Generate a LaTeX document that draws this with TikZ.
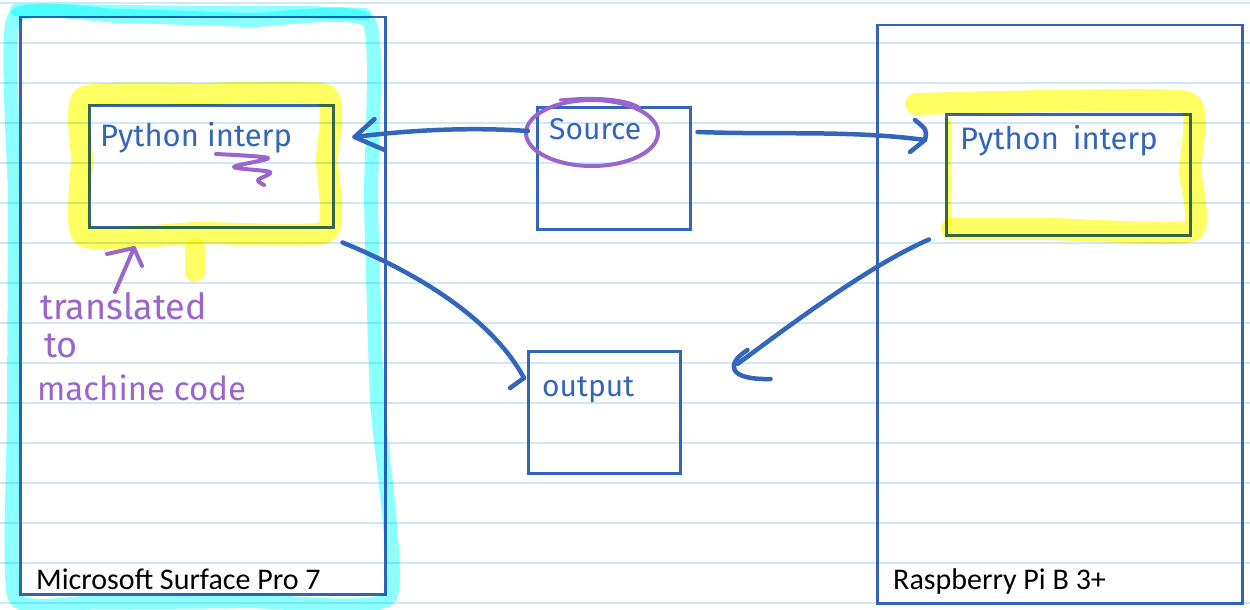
\documentclass[tikz,border=0pt]{standalone}
\usepackage{fontspec}
\setmainfont{Carlito}
\newfontfamily\hand{Fira Sans}
\usetikzlibrary{arrows.meta}
\definecolor{ink}{RGB}{51,102,187}
\definecolor{rulec}{RGB}{51,99,185}
\definecolor{purp}{RGB}{153,102,204}
\definecolor{paperline}{RGB}{204,232,250}
\definecolor{hlcyan}{RGB}{0,255,255}
\definecolor{hlyellow}{RGB}{255,255,0}
\tikzset{
  devbox/.style={draw=rulec, line width=2.5pt, inner sep=0pt, anchor=north west},
  inbox/.style={draw=ink, line width=2.5pt, inner sep=0pt, anchor=north west},
  handtxt/.style={text=ink, font=\hand\fontsize{31}{31}\selectfont, anchor=base west, inner sep=0pt},
  notetxt/.style={text=purp, font=\hand\fontsize{33}{33}\selectfont, anchor=base west, inner sep=0pt},
  devlabel/.style={text=black, font=\fontsize{30}{30}\selectfont, anchor=base west, inner sep=0pt},
  conn/.style={draw=ink, line width=4.5pt, line cap=round, line join=round},
  pstroke/.style={draw=purp, line width=4pt, line cap=round, line join=round},
  hlC/.style={draw=hlcyan, draw opacity=0.45, line width=14pt, line cap=round, line join=round, blend mode=multiply},
  hlY/.style={draw=hlyellow, draw opacity=0.62, line width=22pt, line cap=round, line join=round, blend mode=multiply},
  ruling/.style={draw=paperline, line width=1.5pt},
}
\begin{document}
\begin{tikzpicture}[x=1pt,y=-1pt]
\useasboundingbox (0,0) rectangle (1250,610);
\fill[white] (0,0) rectangle (1250,610);
\foreach \yy in {3,43,...,603} \draw[ruling] (0,\yy) -- (1250,\yy);

% device frames
\node[devbox, minimum width=365pt, minimum height=577pt] (devL) at (19,16) {};
\node[devbox, minimum width=365pt, minimum height=578pt] (devR) at (876,24) {};
\node[devlabel] (labL) at (36,589) {Microsoft Surface Pro 7};
\node[devlabel] (labR) at (893,589) {Raspberry Pi B 3+};

% inner boxes
\node[inbox, minimum width=244pt, minimum height=122pt] (pyL) at (88,104) {};
\node[inbox, minimum width=244pt, minimum height=121pt] (pyR) at (945,113) {};
\node[inbox, minimum width=153pt, minimum height=122pt] (sbox) at (536,106) {};
\node[inbox, minimum width=152pt, minimum height=122pt] (obox) at (527,350) {};

% handwritten texts
\node[handtxt] (pyLt) at (100,146) {Python interp};
\node[handtxt] (pyRt) at (960,149) {Python\hspace{14pt}interp};
\node[handtxt, font=\hand\fontsize{30}{30}\selectfont] (st) at (549,139) {Source};
\node[handtxt, font=\hand\fontsize{30}{30}\selectfont] (ot) at (542,396) {output};
\node[notetxt, font=\hand\fontsize{36}{36}\selectfont] (n1) at (40,319) {translated};
\node[notetxt, font=\hand\fontsize{36}{36}\selectfont] (n2) at (44,357) {to};
\node[notetxt] (n3) at (37,400) {machine code};

% highlights
\draw[hlC] plot[smooth cycle, tension=0.3] coordinates {(15,598) (14,420) (15,200) (14,18) (120,16) (250,20) (369,22) (371,200) (377,400) (390,597) (250,601) (100,602)};
\draw[hlC, line width=12pt] plot[smooth, tension=0.4] coordinates {(16,10) (60,10) (200,12) (300,12) (365,14)};
\draw[hlY] plot[smooth cycle, tension=0.3] coordinates {(84,97) (200,94) (326,95) (327,160) (326,232) (200,233) (84,236) (82,160)};
\draw[hlY, line width=20pt] (195,272) -- (195,248);
\draw[hlY] plot[smooth, tension=0.3] coordinates {(916,104) (1050,101) (1189,103) (1190,170) (1191,231) (1050,229) (952,229)};
\draw[hlY, line width=6pt] (948,120) -- (948,225);

% purple annotations
\draw[purp, line width=4pt] (592,133) ellipse[x radius=66, y radius=33];
\draw[pstroke, line width=3pt] (560,100) .. controls (600,96) and (630,100) .. (640,108);
\draw[pstroke] plot[smooth, tension=0.5] coordinates {(216,154) (268,158) (234,167) (270,172) (258,180) (264,185)};
\coordinate (tA) at (134,248);
\draw[pstroke] (115,292) -- (tA);
\draw[pstroke] (107,254) -- (tA) -- (142,266);

% connectors
\coordinate (a1s) at ([shift={(-8,25)}]sbox.north west);
\coordinate (a1e) at ([shift={(20,33)}]pyL.north east);
\draw[conn] (a1s) .. controls (470,127) and (410,130) .. (a1e);
\draw[conn] ([shift={(20,-18)}]a1e) -- (a1e) -- ([shift={(30,13)}]a1e);

\coordinate (a2s) at ([shift={(6,26)}]sbox.north east);
\coordinate (a2e) at ([shift={(-20,27)}]pyR.north west);
\draw[conn] (a2s) .. controls (780,135) and (850,130) .. (a2e);
\draw[conn] ([shift={(-10,-20)}]a2e) .. controls ([shift={(2,-10)}]a2e) .. (a2e) -- ([shift={(-15,12)}]a2e);

\coordinate (a3s) at ([shift={(8,14)}]pyL.south east);
\coordinate (a3e) at ([shift={(-3,28)}]obox.north west);
\draw[conn] (a3s) .. controls (410,270) and (490,315) .. (a3e);
\draw[conn] ([shift={(-14,10)}]a3e) -- (a3e);

\coordinate (a4s) at ([shift={(-16,3)}]pyR.south west);
\coordinate (a4e) at ([shift={(50,22)}]obox.north east);
\draw[conn] (a4s) .. controls (870,265) and (790,325) .. ([shift={(6,-8)}]a4e);
\draw[conn] ([shift={(16,-22)}]a4e) .. controls ([shift={(-6,-8)}]a4e) and ([shift={(-4,8)}]a4e) .. ([shift={(39,7)}]a4e);
\end{tikzpicture}
\end{document}
